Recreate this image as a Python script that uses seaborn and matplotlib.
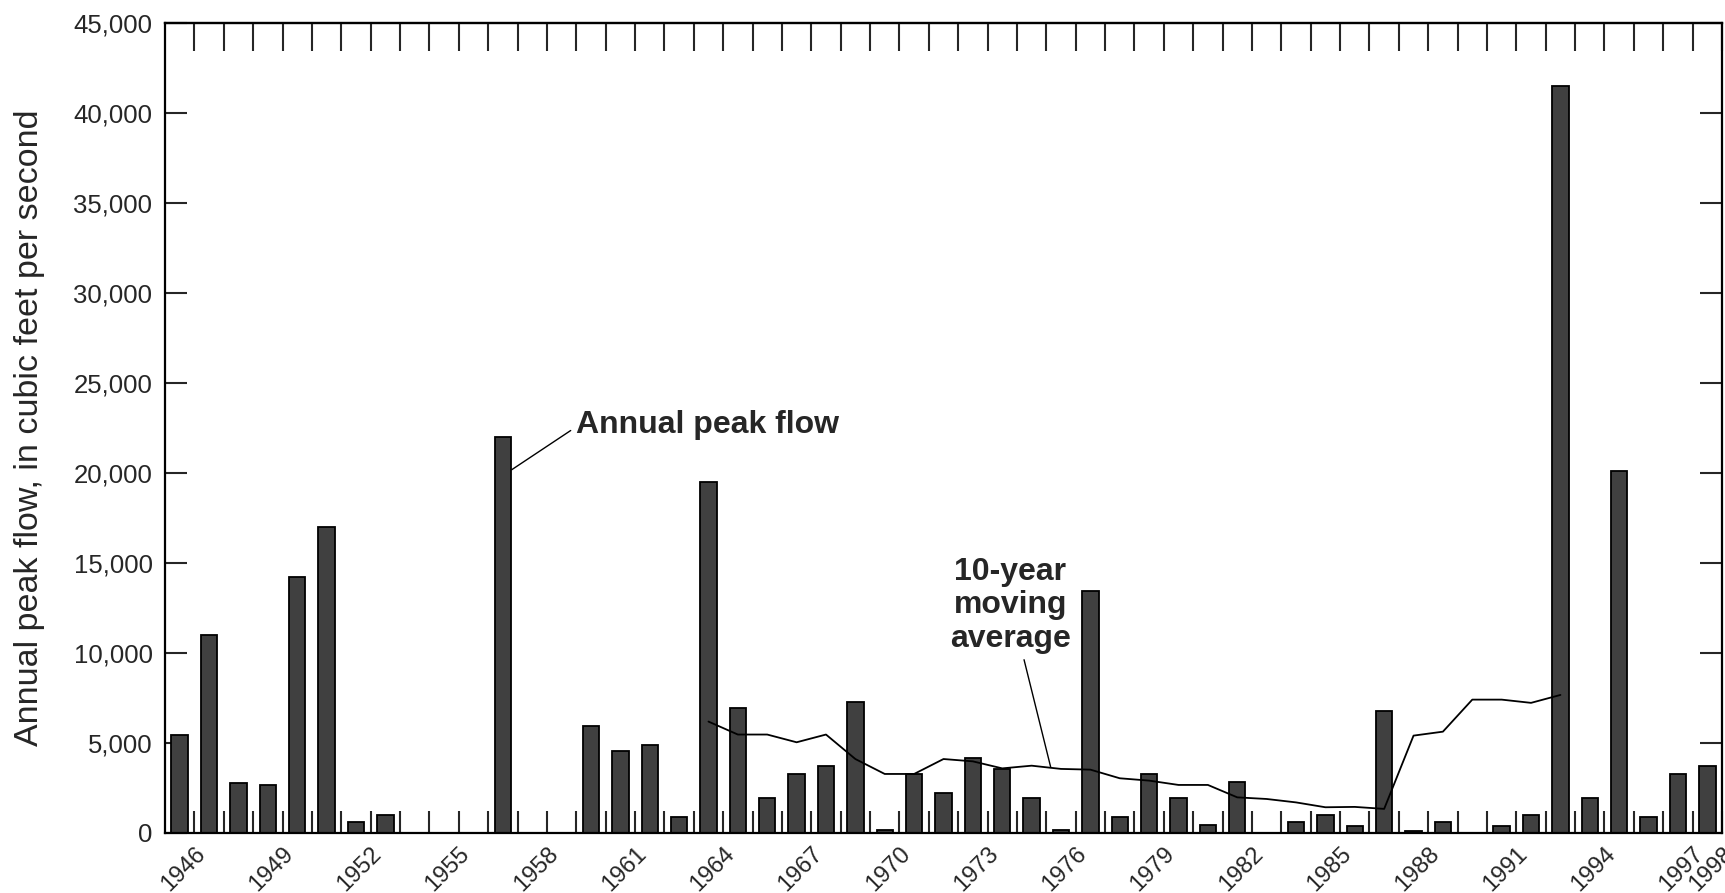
import matplotlib
matplotlib.use("Agg")
import matplotlib.pyplot as plt
import matplotlib.ticker as mticker
import numpy as np
import pandas as pd
import seaborn as sns

# annual peak flow, cubic feet per second (years with no bar left out)
years = [1946, 1947, 1948, 1949, 1950, 1951, 1952, 1953, 1957, 1960,
         1961, 1962, 1963, 1964, 1965, 1966, 1967, 1968, 1969, 1970,
         1971, 1972, 1973, 1974, 1975, 1976, 1977, 1978, 1979, 1980,
         1981, 1982, 1984, 1985, 1986, 1987, 1988, 1989, 1991, 1992,
         1993, 1994, 1995, 1996, 1997, 1998]
peaks = [5470, 11000, 2800, 2650, 14200, 17000, 600, 1020, 22000, 5930,
         4580, 4890, 870, 19500, 6950, 1930, 3260, 3700, 7260, 170,
         3260, 2220, 4150, 3560, 1930, 170, 13450, 870, 3260, 1930,
         445, 2820, 590, 1020, 410, 6800, 130, 590, 410, 1020,
         41500, 1930, 20100, 870, 3260, 3700]

# 10-year moving average
ma_years = list(range(1964, 1994))
ma_vals = [6190, 5470, 5470, 5040, 5470, 4110, 3280, 3280, 4110, 3980,
           3590, 3740, 3560, 3520, 3040, 2910, 2670, 2670, 1980, 1890,
           1700, 1430, 1450, 1340, 5410, 5630, 7410, 7410, 7230, 7670]

first_year, last_year = 1946, 1998
label_years = list(range(1946, 1998, 3)) + [1998]
y_ticks = list(range(0, 45001, 5000))

sns.set_style("white")
plt.rcParams["font.family"] = ["Liberation Sans", "DejaVu Sans"]

df = pd.DataFrame({"year": years, "peak": peaks})
ma = pd.DataFrame({"year": ma_years, "avg": ma_vals})

fig = plt.figure(figsize=(17.25, 8.93), dpi=100)
ax = fig.add_axes([165 / 1725, 1 - 833 / 893, 1557 / 1725, 810 / 893])

sns.barplot(data=df, x="year", y="peak", native_scale=True, width=0.56,
            color="#404040", saturation=1, edgecolor="black", linewidth=1.3,
            errorbar=None, ax=ax)
sns.lineplot(data=ma, x="year", y="avg", color="black", lw=1.3, ax=ax)

ax.set_xlim(first_year - 0.5, last_year + 0.5)
ax.set_ylim(0, 45000)

for s in ax.spines.values():
    s.set_visible(True)
    s.set_linewidth(1.6)
    s.set_color("black")

# x ticks on the year boundaries, labels every 3 years
bounds = np.arange(first_year + 0.5, last_year + 0.6, 1.0)
labels = [str(int(b - 0.5)) if int(b - 0.5) in label_years else "" for b in bounds]
ax.set_xticks(bounds)
ax.set_xticklabels(labels, rotation=45, ha="right", va="top",
                   rotation_mode="anchor", fontsize=17)
ax.tick_params(axis="x", direction="in", length=16, width=1.5, pad=7,
               bottom=True, top=False)

top = ax.secondary_xaxis("top")
top.set_xticks(bounds)
top.tick_params(direction="in", length=20, width=1.5, labeltop=False)
top.spines["top"].set_linewidth(1.6)

ax.set_yticks(y_ticks)
ax.yaxis.set_major_formatter(mticker.FuncFormatter(lambda v, p: f"{int(v):,}"))
ax.tick_params(axis="y", direction="in", length=16, width=1.5, pad=9,
               left=True, right=True, labelsize=18.5)

ax.set_xlabel("")
ax.set_ylabel("Annual peak flow, in cubic feet per second", fontsize=24.5)
ax.yaxis.set_label_coords(-0.0768, 0.5)

ax.annotate("Annual peak flow", xy=(1957.3, 20180), xytext=(1959.5, 22650),
            ha="left", va="center", fontsize=23, fontweight="bold",
            arrowprops=dict(arrowstyle="-", lw=1, color="black",
                            relpos=(0, 0.45), shrinkA=2, shrinkB=0))
ax.annotate("10-year\nmoving\naverage", xy=(1975.65, 3650), xytext=(1974.28, 12650),
            ha="center", va="center", fontsize=23, fontweight="bold",
            linespacing=1.15,
            arrowprops=dict(arrowstyle="-", lw=1, color="black",
                            relpos=(0.6, 0), shrinkA=2, shrinkB=0))

fig.savefig("out.png", dpi=100)
